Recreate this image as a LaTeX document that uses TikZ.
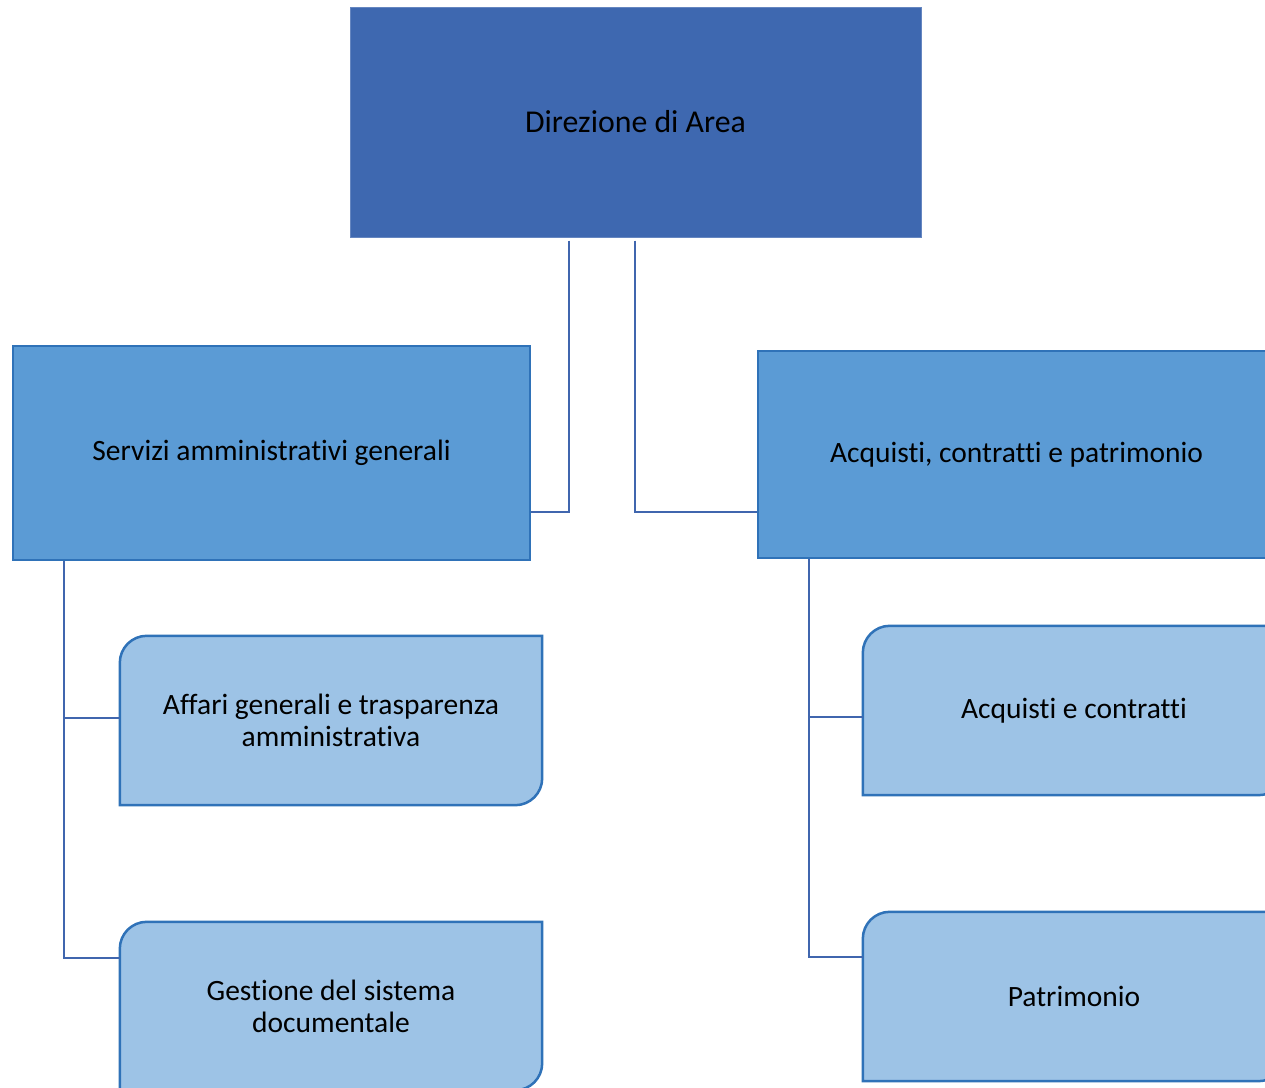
\documentclass[tikz,border=0pt]{standalone}
\usepackage{fontspec}
\setmainfont{Carlito}[Ligatures={NoCommon}]
\definecolor{topfill}{HTML}{3E68B0}
\definecolor{midfill}{HTML}{5B9BD5}
\definecolor{midline}{HTML}{2F72B8}
\definecolor{childfill}{HTML}{9DC3E6}
\definecolor{connline}{HTML}{4066AE}
\tikzset{
  boxtext/.style={font=\fontsize{29.5}{32}\selectfont, align=center, inner sep=0pt, text=black},
  topbox/.style={boxtext, font=\fontsize{31.8}{36}\selectfont, rectangle, fill=topfill, draw=topfill!80!white, line width=1pt},
  midbox/.style={boxtext, rectangle, fill=midfill, draw=midline, line width=2.5pt},
  childnode/.style={boxtext, rectangle},
  childshape/.style={fill=childfill, draw=midline, line width=2.5pt},
  conn/.style={draw=connline, line width=2.5pt}
}
\newcommand\drawchildbox[1]{%
  \filldraw[childshape] (#1.south west) -- ([yshift=-27pt]#1.north west)
    arc[start angle=180, end angle=90, radius=27pt] -- (#1.north east)
    -- ([yshift=27pt]#1.south east)
    arc[start angle=0, end angle=-90, radius=27pt] -- cycle;}
\begin{document}
\begin{tikzpicture}[x=1pt, y=-1pt]
\useasboundingbox (0,0) rectangle (1265,1087);
\clip (0,0) rectangle (1265,1087);
\fill[white] (0,0) rectangle (1265,1087);

% nodes
\node[topbox, minimum width=571pt, minimum height=230pt] (top) at (635.5,122) {Direzione di Area};
\node[midbox, minimum width=517pt, minimum height=214pt] (serv) at (271.5,453) {Servizi amministrativi generali};
\node[midbox, minimum width=517pt, minimum height=207pt] (acq) at (1016.5,454.5) {Acquisti, contratti e patrimonio};

\node[childnode, minimum width=422pt, minimum height=169pt] (aff) at (331,720.5) {};
\node[childnode, minimum width=422pt, minimum height=168pt] (gest) at (331,1006) {};
\node[childnode, minimum width=422pt, minimum height=169pt] (acqc) at (1074,710.5) {};
\node[childnode, minimum width=422pt, minimum height=169pt] (patr) at (1074,996.5) {};

\drawchildbox{aff}
\drawchildbox{gest}
\drawchildbox{acqc}
\drawchildbox{patr}

\node[boxtext] at (aff.center) {Affari generali e trasparenza\\amministrativa};
\node[boxtext] at (gest.center) {Gestione del sistema\\documentale};
\node[boxtext] at (acqc.center) {Acquisti e contratti};
\node[boxtext] at (patr.center) {Patrimonio};

% connectors
\draw[conn] ([xshift=-66.5pt, yshift=-3pt]top.south) |- ([yshift=-59pt]serv.east);
\draw[conn] ([xshift=-0.5pt, yshift=-3pt]top.south) |- ([yshift=-57.5pt]acq.west);

\draw[conn] ([xshift=52pt]serv.south west) |- ([yshift=2.5pt]aff.west);
\draw[conn] ([xshift=52pt]serv.south west) |- ([yshift=48pt]gest.west);

\draw[conn] ([xshift=52pt]acq.south west) |- ([yshift=-6.5pt]acqc.west);
\draw[conn] ([xshift=52pt]acq.south west) |- ([yshift=39.5pt]patr.west);
\end{tikzpicture}
\end{document}
